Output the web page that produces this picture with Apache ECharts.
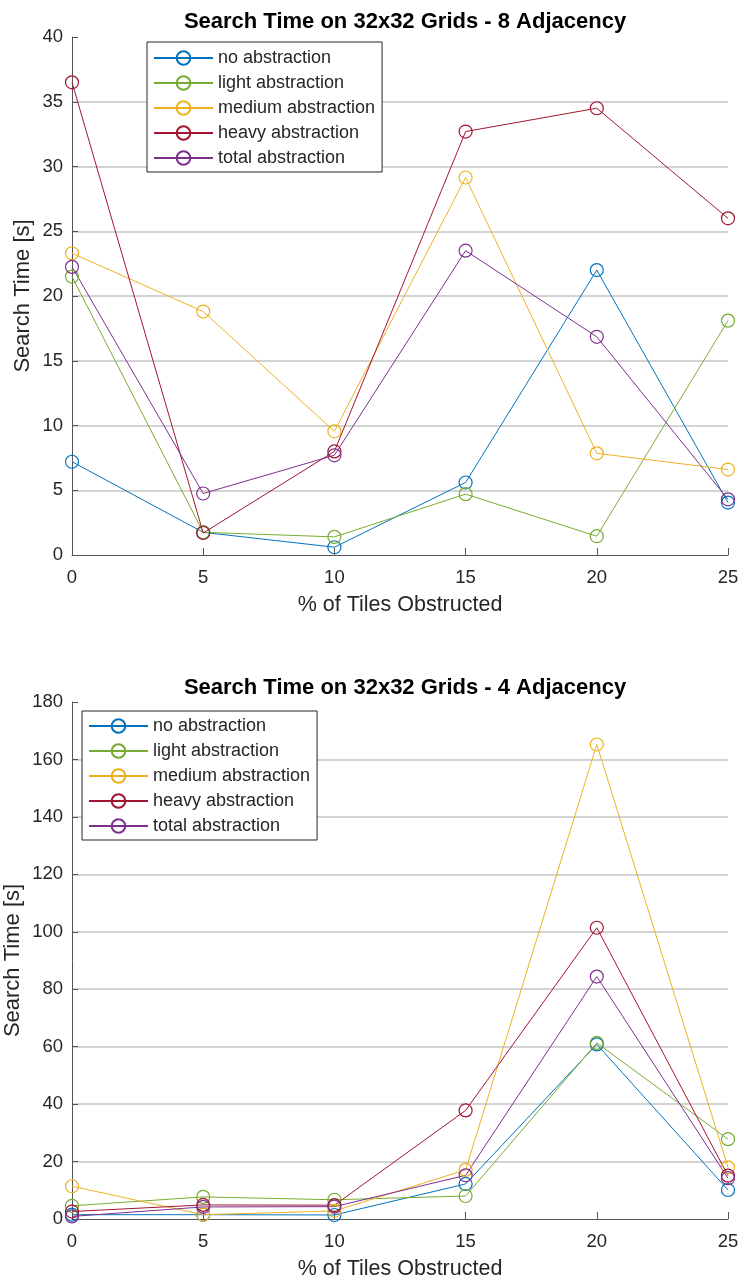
<!DOCTYPE html>
<html>
<head>
<meta charset="utf-8">
<script src="https://cdn.jsdelivr.net/npm/echarts@6/dist/echarts.min.js"></script>
<style>html,body{margin:0;padding:0;background:#fff}#c{width:741px;height:1282px}</style>
</head>
<body>
<div id="c"></div>
<script>
// ---- data ----
const xValues = [0, 5, 10, 15, 20, 25];
const seriesNames = ['no abstraction', 'light abstraction', 'medium abstraction', 'heavy abstraction', 'total abstraction'];
const colors = ['#0072BD', '#77AC30', '#EDB120', '#A2142F', '#7E2F8E'];

// 8 adjacency
const adj8_no     = [7.2, 1.75, 0.6, 5.6, 22.0, 4.05];
const adj8_light  = [21.5, 1.75, 1.4, 4.7, 1.45, 18.1];
const adj8_medium = [23.3, 18.8, 9.55, 29.15, 7.85, 6.6];
const adj8_heavy  = [36.5, 1.7, 8.0, 32.7, 34.5, 26.0];
const adj8_total  = [22.25, 4.75, 7.7, 23.5, 16.85, 4.3];

// 4 adjacency
const adj4_no     = [1.5, 1.5, 1.4, 12.2, 60.8, 10.1];
const adj4_light  = [4.6, 7.7, 6.7, 8.0, 61.3, 27.8];
const adj4_medium = [11.4, 1.5, 2.8, 17.1, 165.2, 18.0];
const adj4_heavy  = [2.6, 4.9, 4.8, 37.8, 101.4, 15.1];
const adj4_total  = [0.9, 4.2, 4.3, 15.2, 84.4, 14.2];

const titles = ['Search Time on 32x32 Grids - 8 Adjacency', 'Search Time on 32x32 Grids - 4 Adjacency'];
const xName = '% of Tiles Obstructed';
const yName = 'Search Time [s]';

const data8 = [adj8_no, adj8_light, adj8_medium, adj8_heavy, adj8_total];
const data4 = [adj4_no, adj4_light, adj4_medium, adj4_heavy, adj4_total];

const FONT = '"Liberation Sans", Arial, Helvetica, sans-serif';
const TXT = '#262626';
const AXC = '#555555';

function xAxis(gi) {
  return {
    type: 'value', gridIndex: gi, min: 0, max: 25, interval: 5,
    name: xName, nameLocation: 'middle', nameGap: 39, nameMoveOverlap: false,
    nameTextStyle: { fontSize: 21.5, color: TXT, fontFamily: FONT },
    axisLine: { show: true, onZero: false, lineStyle: { color: AXC, width: 1 } },
    axisTick: { show: true, inside: true, length: 7, lineStyle: { color: AXC } },
    axisLabel: { fontSize: 18.5, color: TXT, fontFamily: FONT, margin: 13 },
    splitLine: { show: false }
  };
}
function yAxis(gi, max, interval, gap) {
  return {
    type: 'value', gridIndex: gi, min: 0, max: max, interval: interval,
    name: yName, nameLocation: 'middle', nameGap: gap, nameMoveOverlap: false,
    nameTextStyle: { fontSize: 22, color: TXT, fontFamily: FONT },
    axisLine: { show: true, lineStyle: { color: AXC, width: 1 } },
    axisTick: { show: true, inside: true, length: 6, lineStyle: { color: AXC } },
    axisLabel: { fontSize: 18.5, color: TXT, fontFamily: FONT, margin: 9 },
    splitLine: { show: true, showMinLine: false, showMaxLine: false, lineStyle: { color: '#c4c4c4', width: 1.6 } }
  };
}

const series = [];
[data8, data4].forEach((set, gi) => {
  set.forEach((vals, i) => {
    series.push({
      type: 'line', name: seriesNames[i], xAxisIndex: gi, yAxisIndex: gi,
      data: xValues.map((x, k) => [x, vals[k]]),
      symbol: 'circle', symbolSize: 13, showAllSymbol: true,
      lineStyle: { color: colors[i], width: 1 },
      itemStyle: { color: 'rgba(0,0,0,0)', borderColor: colors[i], borderWidth: 1.2 },
      emphasis: { disabled: true },
      animation: false, z: 3
    });
  });
});

function legend(left, top, pad) {
  return {
    orient: 'vertical', left: left, top: top,
    data: seriesNames.map(n => ({ name: n })),
    backgroundColor: '#fff', borderColor: '#262626', borderWidth: 1,
    padding: pad, itemGap: 7, itemWidth: 59, itemHeight: 17,
    textStyle: { fontSize: 18, color: TXT, fontFamily: FONT },
    selectedMode: false, z: 10
  };
}

const chart = echarts.init(document.getElementById('c'), null, { renderer: 'canvas' });
chart.setOption({
  animation: false,
  color: colors,
  title: [
    { text: titles[0], left: 400, top: 6, textAlign: 'center', textStyle: { fontSize: 22, fontWeight: 'bold', color: '#000', fontFamily: FONT } },
    { text: titles[1], left: 400, top: 672, textAlign: 'center', textStyle: { fontSize: 22, fontWeight: 'bold', color: '#000', fontFamily: FONT } }
  ],
  grid: [
    { left: 72, right: 13, top: 37, height: 518, outerBoundsMode: 'none' },
    { left: 72, right: 13, top: 702, height: 517, outerBoundsMode: 'none' }
  ],
  xAxis: [xAxis(0), xAxis(1)],
  yAxis: [yAxis(0, 40, 5, 38), yAxis(1, 180, 20, 48.5)],
  legend: [legend(147, 42, [7, 7, 5, 6]), legend(82, 711, [6, 7, 5, 6])],
  series: series
});
</script>
</body>
</html>
